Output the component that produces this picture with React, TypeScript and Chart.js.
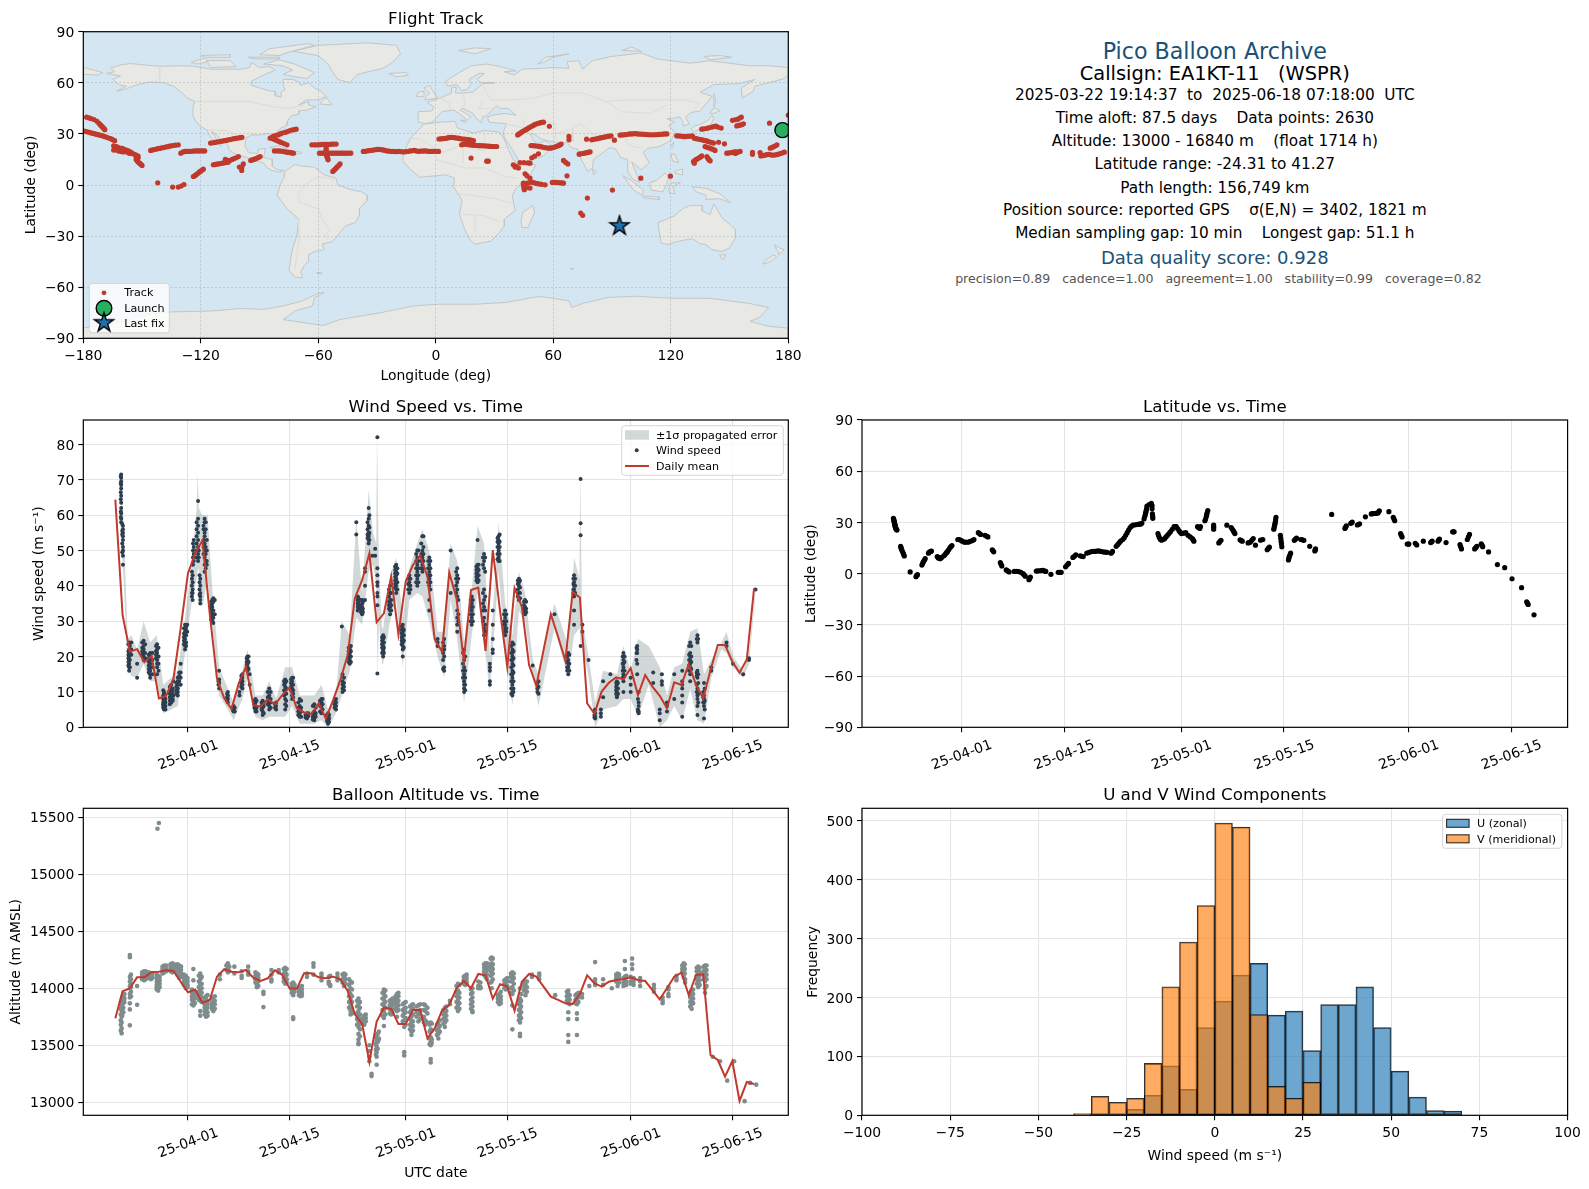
import { useEffect, useRef } from 'react'
import { Chart, registerables } from 'chart.js'
Chart.register(...registerables)

Chart.defaults.font.family = '"DejaVu Sans"'
Chart.defaults.color = '#000'

type Pt = [number, number]
type Col = [number, number[]]

// x values are day of year 2025 (04-01 = 91)
const DATE_TICKS = [91, 105, 121, 135, 152, 166]
const DATE_LABELS = ['25-04-01', '25-04-15', '25-05-01', '25-05-15', '25-06-01', '25-06-15']
const LON_TICKS = [-180, -120, -60, 0, 60, 120, 180]
const LAT_TICKS = [-90, -60, -30, 0, 30, 60, 90]
const WIND_TICKS = [0, 10, 20, 30, 40, 50, 60, 70, 80]
const ALT_TICKS = [13000, 13500, 14000, 14500, 15000, 15500]
const HIST_X_TICKS = [-100, -75, -50, -25, 0, 25, 50, 75, 100]
const HIST_Y_TICKS = [0, 100, 200, 300, 400, 500]

const LAND: Pt[][] = [
  // north america
  [[-168,65.5],[-164,66.5],[-166,68.5],[-161,70.5],[-156,71.3],[-148,70.4],[-140,69.7],[-130,70],[-124,69.8],[-115,68],[-108,68],[-100,68],[-95,69],[-94,72],[-90,69],[-85,69.5],[-82,67.5],[-87,65],[-94,61],[-94.5,58.7],[-90,57],[-85,55.3],[-82,55],[-82,52.5],[-79,51.5],[-79,54.5],[-77,56],[-78,59],[-78,62],[-73,62],[-70,60.5],[-69,58.5],[-65,60],[-62,57],[-58,54.5],[-56,52],[-60,50],[-66,50],[-70,47],[-65,49],[-65,47],[-61,46],[-66,44],[-70,43.5],[-70,41.5],[-74,40.5],[-76,37],[-76,35],[-79,33.5],[-81,31.5],[-80,27],[-80.5,25],[-82,27],[-83,29.5],[-86,30.3],[-90,29.3],[-94,29.5],[-97,27.5],[-97.5,23],[-95.5,19],[-91,18.5],[-90.5,21],[-87,21.5],[-88,16],[-83.5,15],[-83.5,11],[-81,9],[-77.5,8.5],[-80,7.5],[-83,8.3],[-86,10],[-88,13],[-92,14.5],[-96,16],[-102,18],[-105.5,20.5],[-106,23],[-109,26],[-112.5,30],[-114.5,31.5],[-112,27],[-109.5,23],[-112,25],[-115,28],[-117,32.5],[-120.5,34.5],[-122.5,37.5],[-124,40.5],[-124,46],[-123,49],[-127,51],[-130,54.5],[-134,58],[-139,60],[-146,60.5],[-152,59],[-158,56.5],[-163,55],[-158,58],[-162,59],[-165,62],[-161,64]],
  // greenland and arctic islands
  [[-73,78.5],[-60,82],[-35,83.5],[-20,82],[-18,77],[-22,72],[-27,68.5],[-40,65],[-44,60],[-50,62],[-53,67],[-55,71],[-60,76]],
  [[-80,73.5],[-72,71],[-66,68],[-62,66],[-66,62.5],[-72,63.5],[-78,65],[-73,67.5],[-78,70],[-88,71]],
  [[-117,73],[-105,73],[-102,69.5],[-115,69]],
  [[-125,72],[-118,74.5],[-116,72.5],[-122,71]],
  [[-90,76.5],[-85,80],[-65,83],[-62,82],[-75,78],[-80,76]],
  [[-96,75],[-80,75],[-80,74],[-92,74]],
  [[-120,76],[-105,76.5],[-105,75],[-118,75]],
  [[-59,48],[-56,51.5],[-53,47],[-59,47.5]],
  [[-85,22],[-80,23],[-74,20],[-78,20]],
  [[-74,19.5],[-69,19.5],[-68.5,18.5],[-74,18]],
  [[-24,65.5],[-15,66],[-14,64.5],[-20,63.5]],
  [[-5.5,50],[1,51],[-2,56],[-3,58.5],[-6,57],[-3,54],[-5,52]],
  [[-10,52],[-6,52],[-6,55],[-9,54.5]],
  // south america
  [[-77,8],[-72,12],[-68,11],[-62,10.5],[-57,6],[-51,4],[-50,0],[-44,-2.5],[-38,-4],[-35,-6],[-35,-9],[-39,-14],[-39,-18],[-41,-22],[-46,-24],[-49,-28],[-53,-33.5],[-58,-34.5],[-57,-38],[-62,-39],[-65,-41],[-65,-45],[-67,-47],[-69,-51],[-68,-54.5],[-72,-54],[-75,-50],[-74,-42],[-73,-37],[-71,-30],[-70,-20],[-76,-14],[-81,-6],[-80,-2],[-79,1.5],[-77.5,4]],
  [[-61,-51.5],[-58,-51.5],[-59,-52.3]],
  // africa
  [[-6,35.8],[3,37],[10,37.3],[11,33.5],[19,30.5],[25,32],[32,31.2],[34.5,28],[37,21],[39.5,15],[43,11.5],[51,12],[48,5],[41,-2],[39,-6],[40.5,-15],[35,-20],[35,-24],[32.5,-28],[28,-33],[20,-34.8],[18,-33],[15,-27],[12,-17],[13.5,-9],[9,-1],[9.5,4],[5,6],[-4,5],[-8,4.5],[-13,9],[-17,14.5],[-16,20],[-13,27.5],[-9.5,31.5]],
  [[49.5,-12],[50.5,-16],[47,-25],[44,-25],[43.5,-21],[44.5,-16]],
  // eurasia
  [[-9,37],[-9,43],[-2,43.5],[-1,46],[-4.5,48.5],[2,51],[8,54],[8,57],[10.5,57.5],[10,54],[14,54],[19,54.5],[22,57.5],[24,59.5],[30,60],[23,60],[21,62],[25,65.5],[22,65.5],[17,62],[18,59.5],[16,56],[13,55.5],[11,59],[6,58],[5,61],[12,66],[18,70],[26,71],[33,69.5],[41,67],[35,66.5],[40,64.5],[44,68],[54,68.5],[60,69],[68,68.5],[67,72.5],[73,73],[75,68],[80,73],[90,75.5],[105,77.5],[113,74],[130,71.5],[140,73],[160,70],[170,70],[180,69],[180,65],[178,62.5],[170,60],[163,58],[162,55],[156.5,51],[156,57],[163,62],[155,59.5],[142,59],[135,54.5],[141,52],[135,43.5],[130,42.5],[127.5,39.5],[129.5,36],[126.5,34.5],[126,37.5],[124.5,40],[121,39],[118,39],[122,37],[119,35],[122,31],[120,26],[114,22.5],[108,21.5],[106,19],[109,13],[105,9],[100,13.5],[103,5],[104,1.5],[100.5,3.5],[98,8],[98,15],[94.5,16],[92,21],[89,22],[86.5,20],[80.5,15],[80,10],[77.5,8],[73,18],[72.5,21],[69,22],[67,25],[61,25],[57,26],[54,27],[50,30],[48,30],[50,26],[52,24],[56,26],[59.5,22.5],[55,17],[45,13],[43,13],[39,21],[35,28],[34.5,31],[36,36],[30,36.5],[27,37],[26.5,40],[29,41],[35,42],[41,41],[37,45],[33,45],[31,46.5],[28,43],[26,40.8],[24,40],[23,36.5],[20,40],[19,42],[14,45],[12.5,44],[18,40],[16,38],[12,42],[9,44],[3,43],[0,39],[-2,36.8],[-5.5,36]],
  [[50,37],[54,37],[53,41],[54,45],[48,46],[50,42],[49,39]],
  [[-180,69],[-175,67.5],[-170,66],[-173,64.5],[-180,65]],
  [[11.5,79],[20,80.5],[28,80],[20,77]],
  [[52,71],[56,75],[68,77],[60,75],[55,72]],
  [[95,79],[100,81],[105,78.5]],
  [[137,75.5],[145,76],[151,75],[140,73.5]],
  [[12.5,38],[15.5,38],[15,36.8]],
  // east asia and pacific islands
  [[130.5,33],[132,34.5],[136,36],[139,38],[141,41],[142,39],[140.5,35.5],[136,33.5],[131.5,31]],
  [[140,42],[142,45.5],[145,43.5],[142,42]],
  [[142,54],[143,49],[142,46]],
  [[120,23],[121.5,25],[121,22]],
  [[120,18],[122,18],[124,13],[121,14]],
  [[122,8],[126,9.5],[126,6],[122,7]],
  [[109,1],[113,3],[117,7],[119,5],[118,1],[116,-4],[110,-3]],
  [[95.5,5.5],[100,2.5],[106,-3],[105.5,-6],[101,-3]],
  [[105.5,-6.5],[114,-7],[114,-8.5],[106,-7.5]],
  [[120,1],[125,1.5],[121,-1],[122,-5],[119.5,-5],[119,-2]],
  [[131,-1],[138,-2],[145,-5],[148,-8],[150.5,-10.5],[145,-8],[138,-8.5],[138,-6],[133,-4]],
  [[113.5,-22],[116,-21],[122,-18],[126,-14],[130,-12],[136,-12],[136,-15],[140,-17.5],[142,-11],[146,-19],[153,-26],[153,-31],[150,-37],[146,-39],[141,-38],[138,-35],[135,-34.5],[131,-31.5],[124,-33],[118,-35],[115,-34],[114,-27]],
  [[145,-41],[148,-41],[147,-43.5],[146,-43.5]],
  [[173,-35],[175.5,-37],[178,-38],[175,-41],[175,-39],[174,-38]],
  [[172.5,-41],[174,-42],[171,-45],[167,-46.5],[168,-44.5]],
  [[80,9.5],[82,7.5],[80.5,6]],
  [[68.5,-49],[70.5,-49],[69.5,-49.8]],
  // antarctica
  [[-180,-90],[-180,-84],[-160,-80],[-150,-76.5],[-135,-74.5],[-115,-74],[-100,-72.5],[-88,-73],[-78,-71],[-68,-68],[-60,-63.5],[-57,-63.2],[-62,-66],[-63,-71],[-72,-74],[-78,-79],[-57.4,-82.5],[-49,-79],[-28.4,-75],[-11.4,-71],[1.4,-70],[20,-70],[35,-69],[50,-66],[54,-65.5],[68,-68],[69.5,-72],[75,-69.5],[88,-66],[102,-65.3],[120,-66.5],[140,-66.5],[160,-69.5],[170,-72],[165,-78],[160.5,-80],[170,-83],[180,-84],[180,-90]],
]

const BORDERS: Pt[][] = [
  [[-123,49],[-95,49],[-83,46],[-75,45],[-67,47]],
  [[-141,69.7],[-141,60]],
  [[-117,32.5],[-106,31.8],[-97,26]],
  [[-70,-10],[-60,-14],[-58,-20],[-54,-26],[-57,-30],[-53,-33.5]],
  [[-70,-10],[-70,-4],[-66,1],[-60,5],[-52,3]],
  [[-70,-20],[-70,-33],[-72,-50]],
  [[-13,27.5],[-8,27],[3,19],[12,23],[25,20],[25,31]],
  [[25,22],[36,22]],
  [[14,13],[14,23]],
  [[0,15],[15,10],[25,10],[35,5],[42,4]],
  [[12,-5],[30,-8],[40,-11]],
  [[12,-17],[25,-18],[33,-22]],
  [[20,-28],[20,-18]],
  [[28,50],[40,50],[50,51],[60,54],[75,54],[87,49],[98,50],[108,50],[118,50],[127,50],[135,48],[131,43]],
  [[87,49],[95,43],[110,42],[118,47]],
  [[74,36],[80,30],[88,27],[97,28],[98,24],[102,22],[106,22]],
  [[44,39],[46,33],[48,30]],
  [[61,25],[61,36],[54,38]],
  [[61,30],[70,33],[74,36]],
  [[70,33],[70,25]],
  [[2,51],[7,48],[7,44]],
  [[14,54],[15,47],[13,46]],
  [[24,50],[22,45],[29,45]],
  [[28,50],[24,58]],
  [[36,36],[46,33]],
]

const TRACK: Pt[] = [
  [-180,31.8],[-179,31.5],[-178,31.2],[-177,30.9],[-176,30.6],[-175,30.3],[-174,30],[-173,29.7],[-172,29.4],[-171,29.1],[-170,28.8],[-169,28.4],[-168,28],[-167,27.6],[-166,27.2],[-165,26.6],[-164,26],
  [-178.3,39.8],[-177,39.4],[-176,39],[-174.5,38.4],[-173,37.4],[-172,36.2],[-171.5,35.6],[-171,35],[-170.5,34.4],[-170,33.8],[-169.5,33.2],[-169,32.5],
  [-164.5,23],[-164.5,20.5],[-163,22.5],[-163,20.5],[-162,22],[-162,20],[-161,21.5],[-161,19.8],[-160,21.5],[-160,19.5],[-159,20.8],[-159,19.5],[-158,20.5],[-157,20],[-157,18.9],[-156,19.5],[-156,18.5],[-155,18.7],[-154,18],[-153,17.5],[-153,16.5],[-152,17],[-152,16],[-153,15],[-152.5,14.3],[-152,13.5],[-151.5,13],[-151,12.5],[-150.5,12],[-150,11.5],
  [-145.6,20.3],[-145,20.5],[-144,20.8],[-143,21],[-142,21.3],[-141,21.5],[-140,21.8],[-139,22],[-138,22.3],[-137,22.5],[-136,22.8],[-135,23],[-134,23.2],[-133,23.4],[-131.5,23.6],
  [-130.2,18.7],[-129,19.4],[-128,19.7],[-127,19.7],[-126,19.8],[-125,19.8],[-124,19.9],[-123,20],[-122,20],[-121,20],[-120,20],[-119,20],[-118,20],
  [-115,24.6],[-114,24.8],[-113,25],[-112,25.2],[-111,25.4],[-110,25.6],[-109,25.8],[-108,26],[-107,26.2],[-106,26.5],[-105,26.7],[-104,27],[-103,27.2],[-102,27.4],[-101,27.6],[-100,27.8],[-99,28],
  [-123.8,5],[-123,5.5],[-122.5,6],[-121.8,6.6],[-121,7.3],[-120.5,7.8],[-120,8.2],[-119.4,8.8],[-118.7,9.3],
  [-113.6,11.9],[-112.8,12],[-112,12.2],[-111,12.4],[-110,12.6],[-109,12.8],[-108,13],[-107,13.2],[-106,13.4],[-107.5,15],[-106.5,14.5],[-105,14.5],[-104,15],[-103,15.5],[-102,16],[-100.8,16.7],
  [-100.3,10.5],[-98.3,12.4],[-99.1,8.5],[-99,10.5],
  [-94.5,14.4],[-93.8,14.7],[-93,15],[-92.2,15.3],[-91.5,15.7],[-90.6,16.2],[-89.7,16.7],
  [-142,1.3],[-134.4,-1.2],[-131.5,-1.2],[-130,-0.6],[-128.6,0.3],
  [-84.6,27.5],[-83.5,28.1],[-82.5,28.8],[-81.5,29.2],[-80.5,29.5],[-79.5,30],[-78.5,30.5],[-77,30.9],[-76,31.2],[-74.8,31.8],[-73.5,32.3],[-72.4,32.5],[-71.3,32.8],
  [-83,27],[-82,26.5],[-81,26],[-80,25.5],[-79,25],[-77.5,24.3],[-76,23.6],
  [-82.4,20],[-81,20],[-80,20],[-79,19.9],[-78,19.7],[-77,19.5],[-76,19.3],[-75,19.1],[-74,19],[-73.5,18.8],[-72.7,18.7],
  [-63.3,23.6],[-62,23.6],[-61,23.6],[-60,23.6],[-59,23.7],[-58,23.8],[-57,23.8],[-56,23.8],[-55,23.8],[-54,23.9],[-53,24],[-52,24],[-50.9,24],
  [-59.4,18.7],[-58.5,18.7],[-57.5,18.7],[-56.5,18.7],[-55.5,18.7],[-54.5,18.7],[-53.5,18.7],[-52.5,18.7],[-51.5,18.7],[-50.5,18.7],[-49.5,18.7],[-48.5,18.7],[-47.5,18.7],[-46.5,18.7],[-45.5,18.7],[-44.5,18.7],[-43.4,18.7],
  [-56,22],[-56,21],[-56,20],[-56,19],[-55.8,18],[-55.6,17],[-55.5,16.5],[-55.2,15.6],[-55,14.8],
  [-52.6,8],[-52,8.6],[-51.5,9.2],[-50.8,10],[-50.2,10.8],[-49.5,11.6],[-48.9,12.4],
  [-37,19.7],[-36,19.8],[-35,20],[-34,20.2],[-33,20.3],[-32,20.5],[-31,20.7],[-30,20.9],[-29,21],[-28,20.8],[-27,20.6],[-26,20.3],[-25,20],[-24,19.9],[-23,19.8],[-22,19.7],[-21,19.6],[-20,19.6],[-19,19.7],[-18,19.6],[-17,19.5],[-16,19.5],[-15,19.6],[-14,19.8],[-13,20],[-12,20.1],[-11,20.3],[-10,20],[-9,19.8],[-8,19.9],[-7,19.9],[-6,20],[-5,20],[-4,19.8],[-3,19.7],[-2,19.8],[-1,19.8],[0,19.7],[1.4,19.7],
  [1.6,27],[2.5,27.1],[3.5,27.2],[4.5,27.3],[5.5,27.5],[6.5,27.8],[7.5,28],[8.5,27.9],[9.5,27.8],[10.5,27.6],[11.5,27.5],[12.5,27.2],[13.5,27],[14.5,26.9],[15.5,26.8],[16.5,26.6],[17.5,26.5],[18.3,26.2],[19.2,26],
  [13.2,23.6],[14,23.8],[15,24],[16,23.9],[17,23.7],[18,23.5],[19,23.4],[20,23.3],[21,23.2],[22,23.1],[23,23.1],[24,23],[25,23],[26,22.9],[27,22.8],[28,22.7],[29,22.6],[30,22.6],[31.1,22.6],
  [18,15.8],[26.8,14],[26,14],
  [41.8,29.4],[42.5,30],[43.2,30.5],[43.8,31],[44.5,31.5],[45.3,32],[46,32.5],[46.8,33],[47.5,33.6],[48.2,34],[49,34.5],[49.8,35],[50.5,35.5],[51.2,35.8],[52,36.1],[52.8,36.4],[53.5,36.6],[54.2,36.8],[55,36.9],[58,34.5],
  [48.6,23.2],[49.5,23.1],[50.5,23],[51.5,22.9],[52.5,22.7],[53.5,22.5],[54.5,22.3],[55.5,22],[56.5,21.8],[57.5,21.7],[58.4,21.6],[59.2,21.8],[60,22],[61,22.4],[62,22.8],[62.8,23.2],[63.5,23.6],[64,24],
  [68,28.5],[68,26.5],[77,26.9],
  [79.6,26.5],[80.5,26.8],[81.5,27],[82.5,27.2],[83.5,27.5],[84.5,27.8],[85.5,28],[86.5,28.2],[87.5,28.5],[88.5,28.7],[89.5,28.9],[91.2,26.3],
  [94.1,29.3],[95,29.4],[96,29.5],[97,29.6],[98,29.8],[99,30],[100,30],[101,30.1],[102,30.2],[103,30],[104,29.9],[105,29.9],[106,29.8],[107,29.7],[108,29.6],[109,29.5],[110,29.5],[111,29.5],[112,29.5],[113,29.6],[114,29.7],[115,29.8],[116,29.9],[117,30],[118,30],
  [73.2,18.1],[74,18.3],[75,18.5],[76,18.7],[77,19],[78,19.3],[78.8,19.5],
  [65.2,14.4],[66.2,13.4],[67.4,12.4],
  [49,16],[50.5,17],[52.4,18.3],
  [39.6,11.9],[41,11],[42.2,10],[40.5,10.5],[43,13.2],[45,13.2],[47,13],[48.1,12.8],
  [45.6,6.6],[46.5,5.5],[48.1,4],
  [44.7,1.1],[44.8,0],[45,-1],[45.1,-2],[45.2,-2.8],[46.5,1],[47.5,1.3],[49,1.7],[50,1.4],[51,1],[52,0.8],[53,0.6],[54,0.4],[55.8,0.1],[48.1,-1.8],[46.5,-1.5],
  [59.5,1.5],[60.5,1.5],[61.5,1.5],[62.5,1.4],[63.5,1.3],[64.4,1.2],[65.2,1.1],[67,5.4],
  [104.7,4],[119.8,5.2],[90.2,-3],[77.4,-7.7],[74,-16.5],[75,-17.8],
  [170.4,36.3],[180,41],
  [123,28.9],[124,28.8],[125,28.7],[126,28.6],[127,28.4],[128,28.5],[129,28.6],[130,28.7],[131,28.8],[132,27.5],[133,27.2],[134,27],[135,26.7],[136,26.5],[137,26.2],[138,26],[139,25.6],[140,25.2],[141,24.9],[141.8,24.6],
  [137.5,22.6],[138.2,22.3],[139,22],[140,21.6],[141,21.2],[141.8,20.8],[142.6,20.3],[144.4,25.1],[147.4,24.2],
  [135.8,32.8],[136.9,33],[138.4,33.2],[139.5,33.6],[141,34],[142,34.3],[143,34.6],[144,34],[145.7,33.4],
  [151.5,38],[152.8,38.3],[154,38.5],[155,39.2],[156,39.8],[153.7,34.7],[154.6,35],[155.5,35.2],[156.3,35.5],[157.1,35.9],
  [131.6,13.8],[132.3,14.4],[133,15],[133.8,15.5],[134.5,16],[135.2,16.5],[135.8,17.1],[132,12.8],[138.4,16.7],[138.8,16],[139.2,15.2],[139.6,14.7],[140.1,14.2],
  [148.6,18.7],[149.5,18.8],[150.5,19],[151.5,19.2],[152.5,19.5],[153.3,19.4],[154,19.2],[154.7,19.5],[155.4,19.7],[153,18.5],
  [161.7,19.1],[161.7,18],[165.6,19],[166,17.1],[167,17.3],[168,17.5],[169,17.8],[170,18],[171,17.7],[172,17.5],[173,17.6],[174,17.8],[175,18.1],[176,18.5],[177,18.9],[178,19.3],
  [170.8,21.6],[171.6,22],[172.5,22.5],[173.4,23],[174.2,23.6],
]
const LAUNCH: Pt = [177, 32.2]
const LAST_FIX: Pt = [93.8, -24]

const MEAN_DAYS = [81,82,83,84,85,86,87,88,89,90,91,92,93,94,95,96,97,98,99,100,101,102,103,104,105,106,107,108,109,110,111,112,113,114,115,116,117,118,119,120,121,122,123,124,125,126,127,128,129,130,131,132,133,134,135,136,137,138,139,140,141,142,143,144,145,146,147,148,149,150,151,152,153,154,155,156,157,158,159,160,161,162,163,164,165,166,167,168,169]
const WIND_MEAN = [64.4,31.7,21.4,22.1,18.4,20.2,8.2,8.9,13.6,28,43.5,49.2,52.8,32.2,13.8,8.2,5.2,12.4,17.1,6.3,5.8,7.9,6.5,9.1,11.3,5.4,4.2,3.7,6.8,2.5,7.7,13.4,20.4,36.5,41.6,49.2,29.7,32.2,42.6,26.3,41.2,45.9,48.5,42.6,24.9,21.4,43.8,36.5,18.8,38.8,39.5,21.6,50.1,33,17,39.4,34.1,17.6,11.8,21.9,32,25.6,18.8,38.3,36.7,6.8,3.8,10.1,12.6,14.1,13.6,16.7,9.1,14.8,11.5,8.9,5.4,12.7,12,17.9,12,8.2,16.2,23.3,23.3,18.6,15.4,19.2,39.3]
const ALT_MEAN = [13737,13974,14000,14096,14096,14143,14146,14158,14152,14058,13965,13988,13874,13895,14102,14167,14146,14140,14161,14094,14064,14088,14158,14117,14000,13997,14132,14132,14096,14088,14102,14079,13980,13772,13687,13354,13708,13830,13819,13687,13687,13810,13810,13561,13649,13804,13854,14000,14064,14000,14126,14114,13909,14035,14015,13804,14058,14126,14102,14015,13927,13898,13868,13863,13950,14114,14044,14015,14058,14073,14079,14096,14073,14064,13985,13904,14000,14102,14137,13939,14117,14123,13415,13371,13225,13362,13012,13178,13161]

const BAND_DAYS = [81.7,82.1,82.7,83.2,84,84.9,85.8,86.7,87.6,88.7,89.6,90.6,91.5,92.2,92.35,92.5,93,93.7,94.4,95.3,96.5,97.3,98.5,99.2,100.3,101.3,102.2,103.15,104.4,105.35,106.4,107.4,108.4,109.4,110.3,111.4,112.2,113.3,114.2,115,115.9,116.5,116.95,117.05,117.15,117.3,117.75,117.9,118.85,119.7,120.6,121.5,122.6,123.3,124.25,125.4,126.3,127.2,128.1,129.05,130.1,130.9,131.8,132.6,133.8,134.7,135.7,136.6,137.45,138.5,139.3,141.5,143.4,144.2,144.95,145.05,145.15,145.3,146.2,147.1,148.2,150.1,151,152,153,154.5,156,157,158,159.1,160.2,161.2,162.1,163.1,164.5,165.2,166.1,167.5,168.3,169.2]
const BAND_HIGH = [73.5,60,25,26,22,30,24,26,12,14,16,31,46,62,72,62,60,60,38,17,11,7,16,22,9,9,13,8,17,17,9,9,9,12,5,9,30,26,59,38,67,55,52,84,84,46,28,28,43,48,31,45,52,56,50,27,27,52,47,24,39,57,52,20,58,35,26,44,38,19,15,35,23,48,42,73,73,31,20,7,16,15,23,16,25,23,17,9,17,18,27,28,15,19,24,27,20,16,21,40]
const BAND_LOW = [55,43,17,14.5,14,18,13,13,4,5,6,21,35,42,44,45,34,42,28,9,5,2,8,14,3,2,3,3,3,6,1,1,1,2,0,4,9,16,31,29,44,46,40,14,14,30,18,18,30,36,17,36,38,37,30,20,14,36,25,7,26,38,24,10,44,22,6,33,30,14,6,28,14,26,28,22,22,24,14,0,5,6,8,8,3,12,0,2,6,2,11,2,1,14,22,21,17,14,18,38]

const WIND_COLUMNS: Col[] = [
  [81.8,[71.5,70.5,69.5,68.5,67.5,65.5,63.5,62,60.5,59,58]],[82.05,[57,56,55,54,53,51,50,48.5,46]],[82.9,[24,22,21,20,19,18,17,16]],[83.2,[24,22,20.5]],[84,[18,14]],
  [84.9,[24.5,23,22,21,20,19]],[85.8,[21,20,19,18,17,16,15,14]],[86.75,[23.5,22,21,20,19,18,17,15]],[87.6,[10.5,9,8,7,6.5,6,5.5]],[87.9,[8,7,6,5]],
  [88.7,[12,11,10,9,8,7]],[89,[13,9]],[89.6,[10,9,11,12,13,14]],[90,[18,15.5,14,12]],[90.6,[29,28,27,26,25,24,23,22]],[90.9,[29,27]],
  [91.55,[44,42,40,38,37]],[91.8,[53,51,49,47]],[92.4,[64,59,57,55,53,51,49,47]],[92.7,[42,40,38,37,36,35]],[93.3,[59,58,55,54,52,50,48,46,44]],[93.6,[53,50,47,46]],
  [94.35,[36,35,34,33,32,31,30]],[94.7,[36,32]],[95.3,[16,13.5,12.5,11]],[96.5,[10,9,8,7]],[97.3,[6,5,4.5]],[98.1,[9,10]],[98.5,[15,14,13,12,11]],[99.2,[20,19,18,17,16]],[99.5,[15,12]],
  [100.3,[8,7,6,5,4.5]],[101.3,[7.5,6.5,5.5,4.5,3.5]],[102.2,[11,9,8,7,6,5]],[103.15,[7,6,5]],[104.4,[13.5,12.5,11.5,10,8,6.5,5]],[105.35,[14,13,12,11,10,9,8]],[106.4,[8,6,5,4,3]],[107.4,[4,3,2.5]],
  [108.4,[6.5,4.5,3.5,2.5,2]],[109.4,[8,7,5.5,4]],[110.3,[4,3,2,1.5,1]],[111.4,[8,7,6,5]],[112.3,[15,13,12,11,10]],[112.2,[28.5]],[113.3,[23,22,21,20,19,18]],
  [114.2,[58,54.5]],[114.4,[37,36,35,34,33]],[115,[36,35,34,33,32]],[115.4,[45,44,40,36]],[115.9,[62,59,57,55,54.5,54,53,52]],[116.4,[48.5]],[116.8,[50.5,48.5]],[117.1,[82,45,43,41,40,38,37,34.5,15.2]],
  [117.9,[26,25,24,23,22,21.5,20]],[118.85,[40,38,36,35,34,33,32]],[119.7,[46,45,44,43,42,41,40,39,38]],[120.6,[29,28,27,26,25,24,23,22,20]],[121.5,[43,41,40,38]],[122.6,[50,48,46,44,42,40]],
  [123.3,[54,50,48,46,44]],[124.25,[48,46,44,42,40,36,33]],[125.4,[25,24,23]],[126.3,[25,23,22,20,17,16]],[127.2,[50,38]],[128.1,[45,43,41,39,37,33,31,29,27]],[129.05,[22,19,17,15,13,12,11,10]],
  [130.1,[37,35,33,31,29]],[130.9,[53,46,45,44,43,42,41]],[131.8,[49,47,45,39,36,34,31,28,26]],[132.6,[18,17,16,13,12]],[133,[33,29,25,22,21]],[133.8,[54,53,52,50,48,47]],[134.7,[33,31,29,28,26]],
  [135.7,[24,22,21,20,19,18,16,15,14,12,10,9]],[136.6,[42,41,40,38,36]],[137.45,[36,34,33,32]],[138.5,[17.5]],[139.3,[13,11.5,9.5]],[141.5,[32]],[143.4,[21,19,18,17,15]],[144.2,[43,41,40,39,37,33,29]],
  [145.1,[70.2,57.7,54.3,23]],[145.35,[29,27]],[146.2,[19]],[147.1,[5,4,3,2.5]],[147.9,[5,4,3]],[148.2,[13,8.5]],[149.2,[15]],[150.1,[13,12,11,10,9,8.5]],[151,[21,19,18,17,15,14,13,10]],[152,[14,12,10]],
  [152.9,[23,22,21,18,15]],[153.1,[10,7,6,4.5,4]],[155.1,[15.5,12.5]],[156,[5,4,2]],[156.3,[15,13,12]],[157,[7,6,4.5]],[158,[15,8]],[159.1,[16,13,12,11,9,7,3]],[160.2,[24,21,20,19,18,17,15,13]],
  [161.2,[26,24,16,15,14,11,9,8,6,3.5]],[162.1,[12.5,9,8,7,6,2.5]],[163.1,[17,16]],[165.2,[24,23]],[166.1,[18]],[167.5,[15]],[168.3,[19,19.5]],[169.2,[39]],
  // second pass over the thick stacks
  [81.75,[71,69,66.5,64.5,61,59.5]],[81.95,[57.5,55.5,54.5,52,49.5]],[82.8,[23.5,21.5,20.5,19.5,18.5,17.5]],[83,[23,21,19,17]],
  [84.7,[24,22.5,21.5,20.5]],[85.1,[23.5,21,19.5]],[85.6,[20.5,19.5,18.5,17.5,16.5,15.5]],[86.1,[21,19,17,15]],[86.6,[23,21.5,20.5,19.5]],[86.95,[22.5,20,18,16]],
  [87.7,[10,9.5,8.5,7.5,6.5,5.5,5]],[88.5,[11.5,10.5,9.5,8.5,7.5,6.5]],[88.9,[11,10,8,7.5]],[89.4,[9.5,10.5,11.5,12.5]],[89.8,[13,14.5,15.5]],
  [90.45,[28,26.5,25.5,24.5,23.5]],[90.75,[28.5,27.5,26,24,23]],[91.65,[43,41,39,38,36]],[91.7,[52,50,48,46]],[92.2,[58,56,54,52,50,48]],[92.6,[43,41,39,37.5]],[92.5,[50,48]],
  [93.15,[57,56,53,51,49]],[93.45,[58,56,51,49,47,45]],[94.2,[35.5,34.5,33.5,32.5,31.5,30.5]],[94.5,[36.5,35.5,33,31,29.5]],[95.2,[13,12]],[96.4,[9.5,8.5,7.5]],[97.2,[5.5,4.8]],[97.45,[5.5,4.5]],
  [98.35,[14.5,13.5,12.5,11.5]],[99.1,[19.5,18.5,17.5]],[99.35,[20,18.5,16.5]],[100.15,[7.5,6.5,5.5]],[100.45,[7.5,5.5,4.5]],[101.15,[7,6,5]],[101.45,[7,6,4]],[102,[10,8.5,7.5,6.5]],[102.4,[10,8,7,5.5]],[103,[6.5,5.5]],
  [104.25,[13,12,10.5,9]],[104.55,[13,11,9.5,7.5,6]],[105.2,[13.5,12.5,11.5,10.5]],[105.5,[14,12,10.5,9.5,8.5]],[106.2,[7,5.5,4.5,3.5]],[106.6,[7.5,5.5,4.5,3]],[107.2,[3.5,2.8]],[107.6,[4,3.2]],[108.2,[6,4,3,2.2]],[108.6,[5.5,4,3]],
  [109.2,[7.5,6,4.5]],[109.55,[8,6.5,5]],[110.15,[3.5,2.5,1.8]],[110.45,[3.5,2.5,1.5]],[111.2,[7.5,6.5,5.5]],[112.5,[14,12.5,11.5,10.5]],[113.15,[22.5,21.5,20.5,19.5,18.5]],[113.45,[23,21.5,20,18.5]],
  [114.5,[36.5,35.5,34.5,33.5]],[114.85,[36,34.5,33.5,32.5]],[115.1,[35.5,33.5,32.5]],[115.75,[58,56,54.5,53.5]],[116,[60,56.5,55,53]],[117.75,[25.5,24.5,23.5,22.5,21]],[118,[25.5,24,22.5,21]],
  [118.7,[39,37,35.5,34.5,33.5]],[119,[38,36,34.5,33]],[119.55,[45.5,44.5,43.5,42.5,41.5,40.5,39.5]],[119.85,[45,43.5,41,39]],[120.45,[28.5,27.5,26.5,25.5,24.5,23.5]],[120.75,[27.5,26,24.5,22.5]],
  [121.35,[42,40.5,39]],[121.65,[42,40,39]],[122.45,[49,47,45,43,41]],[122.75,[50,47,45,43,41]],[123.15,[52,49,47,45]],[123.45,[54,51,49,47,45]],[124.1,[47,45,43,41]],[124.4,[47,45,43,41,39]],
  [126.15,[24,21,19,16.5]],[127.95,[44,42,40,38]],[128.25,[42,36,32,30]],[128.9,[21,18,16,14]],[129.2,[20,16,14,12,10.5]],[129.95,[36,34,32,30]],[130.25,[36,34,32,30]],[130.75,[45.5,44.5,43.5,42.5,41.5]],[131.05,[46,44.5,43,41.5]],
  [131.65,[48,46,38,35,33,30]],[131.95,[48,44,37,33,29,27]],[133.65,[53.5,52.5,51,49,47.5]],[133.95,[54.5,52.5,51,49,47]],[134.55,[32,30,29,27]],[134.85,[32,30,28,27]],
  [135.55,[23,21,19,17,15,13,11,9.5]],[135.85,[23.5,21.5,19.5,17.5,15.5,13,11,10]],[136.45,[41.5,40.5,39,37]],[136.75,[41.5,39.5,38,36.5]],[137.3,[35.5,34.5,33.5,32.5]],[137.6,[35.5,33.5,32.5]],
  [139.15,[12.5,11,10]],[143.25,[20,18.5,17,16]],[143.55,[20.5,18,16]],[144.1,[42,40.5,39,38]],[144.35,[42,40,38]],
  [147,[4.5,3.5,2.8]],[150,[12.5,11.5,10.5,9.5]],[150.25,[12.5,11,9.5]],[150.9,[20,18,16,14]],[151.15,[20,18.5,16,14.5]],[152.8,[22.5,21,19]],[153,[8,5,4.5]],[160.05,[23,20.5,19,17.5,16]],[160.35,[23,20,18.5,16.5]],[161.1,[25,15.5,14.5,12,10]],[161.3,[25,15,12.5,9.5,7]],[162,[10,8.5,7]],[162.2,[11,7.5,5]],
]

const LATITUDE: Pt[] = [
  [81.72,32.4],[81.8,31],[81.85,30],[81.9,29],[81.95,28],[82,27],[82.1,26],[82.2,25.5],[82.7,16],[82.8,14.5],[83,12.5],[83.2,10.4],[84,1],[84.8,-1.8],[85,-0.6],
  [85.6,5],[85.8,7],[86.05,8.8],[86.5,12],[86.9,13.2],[87.7,10],[87.9,9],[88.1,8.8],[88.6,10.5],[88.9,12],[89.1,13],[89.4,15],[89.7,16.5],[90.5,20],[90.9,19.5],[91.4,18.4],[91.9,18.4],[92.4,19.2],[92.7,20],
  [93.3,24],[93.6,23],[94.2,22.5],[94.6,21.5],[95.2,14],[95.4,12.8],[96.3,6.5],[96.5,4.5],[97.1,2.2],[97.5,1],[98.2,1.3],[98.8,1.2],[99.4,0],[99.7,-1.5],[100.2,-3.5],[100.4,-2],[101.2,1.5],[101.7,1.7],[102.1,2],[102.5,1.3],[103.2,-0.4],
  [104.2,0.8],[104.6,0.8],[105.2,4],[105.6,6],[106.2,9.5],[106.6,11],[107.2,10.5],[107.6,10],[108.1,12],[108.6,12.8],[109.2,13],[109.7,13.3],[110.3,12.8],[110.6,12.6],[111.4,12],[111.6,13],
  [112.1,16],[112.5,18],[113.2,21],[113.6,24],[114,27],[114.4,28.5],[115,28.8],[115.4,29],[115.9,32],[116.1,35],[116.2,37],[116.3,39.5],[116.9,41.2],[117,38],[117.05,35],[117.1,32.4],
  [117.8,23.5],[118,21],[118.3,19.6],[118.7,20.5],[119.1,22.5],[119.5,24.5],[120,27.5],[120.3,27.5],[120.7,25],[121,23.5],[121.6,24],[121.9,22.5],[122.5,20.5],[122.7,19],[123.2,27.5],[123.5,26.5],
  [124.2,31],[124.4,33.5],[124.5,35.5],[124.6,37],[125.4,28.5],[125.4,26],[126.1,18],[126.4,19.5],[127.2,28.4],[127.8,27],[128.1,25],[128.3,23.5],[129,19.8],[129.3,19],[130.1,18],[130.4,18.5],[130.8,20.6],[131.1,16.7],[131.8,19.6],[132.1,20],
  [132.7,14],[133,15.5],[133.6,26],[133.7,28],[133.8,30],[133.9,33],[134.5,22.5],[134.6,19],[134.7,15.7],[135.6,8],[135.7,9.8],[135.9,12],[136.4,19.5],[136.7,20.8],[137.3,20],[137.7,19.5],[138.5,16],[139.2,13.3],[139.3,14.5],
  [141.5,34.7],[143.3,26.5],[143.5,28],[144.1,29.5],[144.3,30.2],[145,28.5],[145.3,29.2],[146.1,33.3],[146.9,35],[147.2,35.2],[147.8,35.5],[148,36.8],[149.3,36.3],[149.9,33],[150.1,31],
  [150.9,23.5],[151.1,21.5],[151.8,17.3],[152,17.3],[152.9,17.8],[153.1,16.8],[154,19],[155,18.2],[155.2,19],[156,19],[156.2,20.2],[157.1,18.2],[158,24.5],[158.2,24.5],[159,17],[159.2,14.5],[160,20],[160.3,23],
  [161,14.5],[161.3,16],[161.9,17.5],[162.1,15.8],[162.9,12.7],[164.1,5.3],[165.1,3.5],[166.1,-3],[167.4,-8.2],[168.1,-16.5],[168.3,-18],[169.1,-24.1],
  // second pass over the thick runs
  [81.75,31.8],[81.82,30.5],[81.87,29.5],[81.92,28.5],[81.97,27.5],[82.05,26.5],[82.15,25.8],[82.75,15.2],[82.9,13.5],[83.1,11.4],[84.9,-1],[85.7,6],[85.95,8],[86.6,12.6],[86.8,13],[87.8,9.5],[88.3,9.5],[88.75,11.2],[89,12.5],[89.25,14],[89.55,15.8],[90.7,20],[91.1,19],[91.6,18.5],[92.1,18.8],[92.55,19.5],
  [93.45,23.5],[94.4,22],[95.3,13.4],[96.4,5.5],[97.3,1.6],[98.5,1.3],[99.1,0.8],[99.55,-0.7],[100.3,-2.8],[101.4,1.6],[101.9,1.8],[102.3,1.6],[104.4,.8],[105.4,5],[106.4,10.2],[107.4,10.2],[108.35,12.4],[108.9,13],[109.45,13.2],[110,13],[110.85,12.5],[111.5,12.5],
  [112.3,17],[112.7,19],[113,20],[113.4,22.5],[113.8,25.5],[114.2,27.8],[114.7,28.6],[115.2,29],[115.6,29.5],[116,33.5],[116.15,36],[116.25,38],[116.6,40.5],[117,39.8],[117.08,33.6],
  [117.9,22.2],[118.15,20],[118.5,20],[118.9,21.5],[119.3,23.5],[119.75,26],[120.15,27.5],[120.5,26.3],[120.85,24.2],[121.3,23.7],[122.2,21.5],[122.6,19.8],[123.35,27],[123.6,27.5],
  [124.3,32],[124.45,34.5],[125.4,27.2],[126.25,18.8],[127.95,26],[128.2,24.2],[129.15,19.4],[130.25,18.2],[130.6,19.5],[132.85,14.8],[133.65,27],[133.75,29],[133.85,31.5],[134.55,20.7],[134.65,17.5],[135.65,8.9],[135.8,10.9],[136.55,20.2],[137.5,19.8],[139.25,13.9],
  [143.4,27.2],[144.2,29.8],[145.15,28.8],[147.05,35.2],[147.5,35.3],[147.9,36.2],[150,32],[151,22.5],[152,17.3],[155.1,18.6],[156.1,19.6],[158.1,24.5],[159.1,15.7],[160.15,21.6],[161.15,15.2],[162,16.7],[168.2,-17.3],
]

const ALT_COLUMNS: Col[] = [
  [81.87,[13900,13850,13800,13750,13700,13650,13605]],[82.1,[13930,13900,13870,13830,13790]],[83,[14292,14272,14100,14060,14020,14000,13950,13920,13868,13815,13675]],[84,[14020,13855]],
  [84.95,[14150,14130,14110,14090,14070]],[85.9,[14130,14110,14090,14080]],[86.8,[15400]],[87,[15450]],[86.9,[14110,14080,14050,14020,14000,13980]],[87.75,[14200,14180,14160,14140]],[88.85,[14220,14200,14180,14160,14140]],[89.8,[14200,14170,14140,14110,14090]],
  [90.7,[14110,14080,14050,14020,14000]],[91.75,[14170,14070,13980,13960,13930,13900,13870,13850]],[92.7,[14130,14080,14030,13990,13950,13920,13890,13800,13760]],[93.5,[13930,13900,13870,13840,13810,13780,13750]],[94.5,[13920,13880,13850,13810,13800]],
  [95.4,[14120,14080]],[96.5,[14220,14180,14140]],[97.4,[14190,14130]],[98.4,[14150,14110,14090]],[99.3,[14190,14150,14120]],[100.5,[14130,14100,14070,14030,14010]],[101.4,[13970,13950,13835]],[102.5,[14160,14120,14080,14060]],[103.5,[14160,14140]],
  [104.4,[14180,14140,14100,14070,14040]],[105.5,[14050,14000,13980,13940,13745,13730]],[106.5,[14010,13980,13950,13930]],[107.4,[14130,14100]],[108.3,[14220,14190,14120]],[109.4,[14130,14110,14070]],[110.6,[14110,14030,14020]],[111.6,[14130,14100,14070]],[112.5,[14130,14090,14060,14020]],
  [113.4,[14060,14000,13950,13900,13850,13800,13770]],[114.5,[13910,13860,13800,13760,13710,13660,13600,13550,13520,13510]],[115.3,[13760,13730,13700,13680]],[116,[13500,13450,13400,13360]],[116.3,[13230,13250]],[117,[13590,13540,13490,13440,13400,13330]],[117.3,[13550,13560,13620]],
  [118,[13990,13950,13900,13850,13800,13740,13670]],[119,[13900,13870,13840,13800,13770]],[119.8,[13950,13920,13880,13840,13800,13750]],[120.8,[13870,13820,13780,13720,13660,13440,13410]],[121.8,[13850,13810,13750,13700,13660,13620,13590]],[122.75,[13850,13800,13770,13710]],[123.7,[13850,13800,13720,13680]],
  [124.45,[13700,13640,13570,13530,13500,13380,13350]],[125.5,[13700,13650,13600,13560]],[126.4,[13830,13790,13750,13700,13660]],[127.1,[13860,13890]],[128.2,[14040,13980,13950,13900,13850,13800]],[129.2,[14110,14080,14050,14030]],[130.2,[14000,13960,13920,13880,13840,13800,13790]],[131,[14060,14020,14000]],
  [132,[14220,14200,14170,14140,14100]],[132.85,[14270,14220,14190,14160,14120,14060,14000]],[133.9,[13950,13920,13890,13860]],[134.8,[14080,14050,14010,13990]],[135.7,[14140,14110,14070,14010,13950,13850,13640]],[136.75,[14000,13910,13870,13820,13770,13730,13700,13600,13580]],[137.5,[14060,14030,14000,13940]],[138.4,[14120,14100]],[139.4,[14130,14110,14080]],
  [141.6,[13940]],[143.4,[13980,13950,13920,13870,13790,13730,13590,13530]],[144.6,[13950,13920,13890,13860,13780,13730,13590]],[145.3,[13950,13920]],[146.3,[14020]],[147.1,[14230,14080,14050,14030]],[148.2,[14080,14030]],[149.4,[14000]],[150.2,[14130,14100,14080,14050,14020]],[151.2,[14240,14170,14100,14060,14030]],[152.2,[14260,14210,14170,14070,14050]],
  [153.3,[14090,14060,14020]],[155.2,[14030,14000,13970]],[156.4,[13920,13890,13870]],[157.2,[14010,13990,13950,13930]],[158.3,[14110,14090,14070]],[159.3,[14220,14190,14160,14130,14100]],[159.5,[14080,14050]],[160.4,[13980,13940,13900,13860,13820]],[161.3,[14190,14160,14130,14100,14060,14040,14010]],[162.25,[14200,14170,14130,14100,14060,14000,13960]],
  [163.3,[13400]],[164.3,[13360]],[165.3,[13190]],[166.25,[13360]],[167.7,[13010]],[168.45,[13170]],[169.3,[13155]],
  // second pass over the thick stacks
  [81.75,[13880,13820,13770,13720,13680,13630]],[81.95,[13920,13860,13810,13760]],[82.25,[13950,13910,13880]],[83.15,[14120,14080,14040,14010,13970,13930]],[84.7,[14140,14120,14100,14080]],[85.2,[14150,14120,14100,14080]],[85.6,[14140,14120,14100,14090]],[86.1,[14130,14100,14090]],[86.7,[14120,14090,14060,14030,14010,13990]],[87.1,[14100,14070,14040,14010]],
  [87.5,[14190,14170,14150,14130]],[88,[14200,14170,14150]],[88.6,[14210,14190,14170,14150]],[89.1,[14210,14190,14170,14150]],[89.55,[14210,14180,14150,14120]],[90.05,[14190,14160,14130,14100]],[90.45,[14120,14090,14060,14030]],[90.95,[14090,14060,14030,14010]],
  [91.55,[13990,13960,13930,13900,13860]],[91.95,[13970,13940,13910,13870]],[92.5,[14110,14060,14010,13970,13930,13900]],[92.9,[14100,14040,14000,13960,13920,13880]],[93.3,[13920,13890,13860,13830,13800,13770]],[93.7,[13940,13890,13860,13830,13790,13760]],[94.3,[13910,13870,13840,13820]],[94.7,[13930,13890,13860,13820]],
  [96.3,[14200,14160]],[96.7,[14190,14150]],[100.3,[14140,14110,14080,14050]],[100.7,[14120,14090,14060,14020]],[104.2,[14170,14130,14090,14060]],[104.6,[14170,14120,14080,14050]],[105.3,[14040,14010,13990,13960]],[105.7,[14030,14000,13970]],[106.3,[14000,13970,13940]],[106.7,[14020,13990,13960,13935]],
  [110.4,[14100,14060,14040]],[112.3,[14120,14080,14050]],[112.7,[14120,14080,14040]],[113.2,[14080,14030,13980,13930,13880,13830]],[113.6,[14050,13990,13930,13880,13820,13780]],[114.3,[13890,13840,13780,13730,13680]],[114.7,[13880,13830,13770,13730,13690,13640,13580]],[115.1,[13740,13710,13690]],[115.5,[13770,13740,13710]],
  [116.9,[13570,13510,13460,13420]],[117.15,[13600,13530,13470]],[117.8,[13960,13910,13860,13810,13760]],[118.2,[13980,13930,13880,13830,13770]],[118.8,[13890,13850,13820,13780]],[119.2,[13910,13880,13850,13810,13780]],[119.6,[13930,13900,13860,13820]],[120,[13960,13930,13890,13850,13810]],
  [120.6,[13860,13810,13760,13710]],[121,[13880,13830,13790,13740,13680]],[121.6,[13840,13790,13730,13680,13640]],[122,[13860,13820,13770,13710,13670,13630]],[122.5,[13840,13790,13750]],[123,[13860,13810,13770,13730]],[123.5,[13860,13810,13750,13700]],[124,[13830,13780,13700]],[124.3,[13680,13620,13560,13510]],[124.6,[13690,13630,13550,13520]],
  [125.3,[13680,13630,13590]],[125.7,[13720,13670,13620]],[126.2,[13810,13770,13730,13690]],[126.6,[13840,13800,13760,13720]],[128,[14020,13970,13930,13880,13830]],[128.4,[14030,13960,13920,13870,13820]],[129,[14100,14070,14040]],[129.4,[14120,14090,14060,14040]],[130,[13990,13950,13900,13860,13820]],[131.3,[14050,14010,14000]],
  [131.8,[14210,14180,14150,14120]],[132.2,[14220,14190,14160,14120,14080]],[132.7,[14260,14210,14180,14150,14110,14050]],[133,[14260,14210,14170,14130,14080]],[133.7,[13940,13910,13880]],[134.1,[13970,13930,13900,13870]],[134.6,[14070,14040,14000]],[135,[14090,14060,14020]],[135.5,[14130,14100,14060,14000,13960]],[135.9,[14130,14090,14040,13980]],
  [136.6,[13900,13860,13810,13760,13720]],[136.9,[13950,13890,13840,13790,13740]],[137.3,[14050,14020,13980]],[137.7,[14060,14010,13970]],[143.2,[13970,13930,13890]],[143.6,[13940,13900,13860]],[144.4,[13940,13900,13870]],[144.8,[13960,13920,13880]],
  [150,[14120,14090,14060]],[150.4,[14120,14090,14050]],[151,[14090,14050,14020]],[151.4,[14110,14060,14030]],[152,[14100,14060,14040]],[152.4,[14090,14060,14030]],[159.1,[14200,14170,14140]],[159.45,[14210,14170,14130]],[160.2,[13960,13920,13880,13840]],[160.6,[13990,13950,13910,13870]],[161.1,[14180,14150,14110,14080,14040]],[161.5,[14180,14140,14110,14070,14030]],[162.05,[14190,14150,14120,14080]],[162.45,[14200,14160,14120,14080,14020]],
]

const BIN_CENTERS = [-97.5,-92.5,-87.5,-82.5,-77.5,-72.5,-67.5,-62.5,-57.5,-52.5,-47.5,-42.5,-37.5,-32.5,-27.5,-22.5,-17.5,-12.5,-7.5,-2.5,2.5,7.5,12.5,17.5,22.5,27.5,32.5,37.5,42.5,47.5,52.5,57.5,62.5,67.5,72.5,77.5,82.5,87.5,92.5,97.5]
const U_COUNTS = [0,0,0,0,0,0,0,0,0,0,0,0,0,0,0,10,34,84,44,149,194,238,258,170,177,110,188,188,218,149,75,31,8,7,0,0,0,0,0,0]
const V_COUNTS = [0,0,0,0,0,0,0,0,0,0,0,0,3,32,22,29,88,218,294,356,496,489,171,49,29,56,0,0,0,0,0,0,0,0,0,0,0,0,0,0]

const INFO_TEXT = [
  'Pico Balloon Archive',
  'Callsign: EA1KT-11   (WSPR)',
  '2025-03-22 19:14:37  to  2025-06-18 07:18:00  UTC',
  'Time aloft: 87.5 days    Data points: 2630',
  'Altitude: 13000 - 16840 m    (float 1714 h)',
  'Latitude range: -24.31 to 41.27',
  'Path length: 156,749 km',
  'Position source: reported GPS    \u03c3(E,N) = 3402, 1821 m',
  'Median sampling gap: 10 min    Longest gap: 51.1 h',
  'Data quality score: 0.928',
  'precision=0.89   cadence=1.00   agreement=1.00   stability=0.99   coverage=0.82',
]
const INFO_Y = [51, 74.3, 95, 118.3, 141, 164.3, 187.7, 210.3, 233.3, 257.7, 278.7]
const INFO_SIZE = [22.2, 19.4, 15.3, 15.3, 15.3, 15.3, 15.3, 15.3, 15.3, 18, 12.55]
const INFO_COLOR = ['#1a5276', '#000', '#000', '#000', '#000', '#000', '#000', '#000', '#000', '#1a5276', '#555']
const INFO_DX = [0, 0, 0, 0, 0, 0, 0, 0, 0, 0, 3.6]

const RED = '#c0392b'
const NAVY = '#2c3e50'
const SLATE = '#7f8c8d'
const GRID = '#e4e4e4'
const BAND = 'rgba(127,140,141,0.35)'

const flat = (cols: Col[]) => cols.flatMap(([x, ys]) => ys.map(y => ({ x, y })))
const toXY = (pts: Pt[]) => pts.map(([x, y]) => ({ x, y }))
const zip = (xs: number[], ys: number[]) => xs.map((x, i) => ({ x, y: ys[i] }))
const minus = (v: number) => String(v).replace('-', '\u2212')

function makeStar(r: number) {
  const c = document.createElement('canvas')
  c.width = c.height = Math.ceil(r * 2 + 4)
  const g = c.getContext('2d')!
  g.translate(c.width / 2, c.height / 2)
  g.beginPath()
  for (let i = 0; i < 10; i++) {
    const rad = i % 2 ? r * 0.382 : r
    const a = -Math.PI / 2 + (i * Math.PI) / 5
    g.lineTo(rad * Math.cos(a), rad * Math.sin(a))
  }
  g.closePath()
  g.fillStyle = '#1f6fa8'
  g.fill()
  g.lineWidth = 1.4
  g.strokeStyle = '#000'
  g.stroke()
  return c
}

// full box around the plot, like matplotlib spines
const framePlugin = {
  id: 'frame',
  afterDraw(chart: any) {
    const { ctx, chartArea: a } = chart
    ctx.save()
    ctx.strokeStyle = '#000'
    ctx.lineWidth = 1.2
    ctx.strokeRect(a.left, a.top, a.right - a.left, a.bottom - a.top)
    ctx.restore()
  },
}

const oceanPlugin = {
  id: 'ocean',
  beforeDraw(chart: any) {
    const { ctx, chartArea: a } = chart
    ctx.fillStyle = '#d4e6f1'
    ctx.fillRect(a.left, a.top, a.right - a.left, a.bottom - a.top)
  },
}

function legendBox(ctx: any, x: number, y: number, w: number, h: number) {
  ctx.beginPath()
  ctx.roundRect(x, y, w, h, 3)
  ctx.fillStyle = 'rgba(255,255,255,0.8)'
  ctx.fill()
  ctx.strokeStyle = 'rgba(204,204,204,0.8)'
  ctx.lineWidth = 1
  ctx.stroke()
  ctx.font = '11.1px "DejaVu Sans"'
  ctx.fillStyle = '#000'
  ctx.textBaseline = 'middle'
  ctx.textAlign = 'left'
}

const mapLegend = {
  id: 'mapLegend',
  afterDraw(chart: any) {
    const { ctx, chartArea: a } = chart
    const x = a.left + 6
    const y = a.bottom - 55
    ctx.save()
    legendBox(ctx, x, y, 80, 49.5)
    ctx.fillText('Track', x + 35, y + 10)
    ctx.fillText('Launch', x + 35, y + 26)
    ctx.fillText('Last fix', x + 35, y + 41)
    ctx.beginPath()
    ctx.arc(x + 14.7, y + 9.5, 2.4, 0, Math.PI * 2)
    ctx.fillStyle = RED
    ctx.fill()
    ctx.beginPath()
    ctx.arc(x + 14.7, y + 25, 7.8, 0, Math.PI * 2)
    ctx.fillStyle = '#27ae60'
    ctx.fill()
    ctx.strokeStyle = '#000'
    ctx.lineWidth = 1.4
    ctx.stroke()
    const star = makeStar(10)
    ctx.drawImage(star, x + 14.7 - star.width / 2, y + 39.5 - star.height / 2)
    ctx.restore()
  },
}

const windLegend = {
  id: 'windLegend',
  afterDraw(chart: any) {
    const { ctx, chartArea: a } = chart
    const x = a.right - 166.6
    const y = a.top + 5.7
    ctx.save()
    legendBox(ctx, x, y, 161.6, 49.6)
    ctx.fillText('\u00b11\u03c3 propagated error', x + 34.3, y + 10)
    ctx.fillText('Wind speed', x + 34.3, y + 25.4)
    ctx.fillText('Daily mean', x + 34.3, y + 41)
    ctx.fillStyle = BAND
    ctx.fillRect(x + 3.3, y + 4.5, 24, 9.5)
    ctx.beginPath()
    ctx.arc(x + 15, y + 24.6, 2, 0, Math.PI * 2)
    ctx.fillStyle = NAVY
    ctx.fill()
    ctx.beginPath()
    ctx.moveTo(x + 3.3, y + 40.3)
    ctx.lineTo(x + 27.3, y + 40.3)
    ctx.strokeStyle = RED
    ctx.lineWidth = 2
    ctx.stroke()
    ctx.restore()
  },
}

const histLegend = {
  id: 'histLegend',
  afterDraw(chart: any) {
    const { ctx, chartArea: a } = chart
    const x = a.right - 125
    const y = a.top + 6
    ctx.save()
    legendBox(ctx, x, y, 119.3, 34)
    ctx.fillText('U (zonal)', x + 34.5, y + 10.2)
    ctx.fillText('V (meridional)', x + 34.5, y + 25.5)
    ctx.lineWidth = 1.1
    ctx.strokeStyle = 'rgba(0,0,0,0.8)'
    ctx.fillStyle = 'rgba(31,119,180,0.65)'
    ctx.fillRect(x + 4, y + 5, 22.5, 8)
    ctx.strokeRect(x + 4, y + 5, 22.5, 8)
    ctx.fillStyle = 'rgba(255,127,14,0.65)'
    ctx.fillRect(x + 4, y + 20.5, 22.5, 8)
    ctx.strokeRect(x + 4, y + 20.5, 22.5, 8)
    ctx.restore()
  },
}

interface AxisOpts {
  min: number
  max: number
  ticks: number[]
  size: number
  label?: string
  labelPad?: number
  dates?: boolean
  grid?: any
  border?: any
}

function axis({ min, max, ticks, size, label, labelPad, dates, grid, border }: AxisOpts, horizontal: boolean) {
  return {
    type: 'linear',
    min,
    max,
    afterBuildTicks: (s: any) => { s.ticks = ticks.map(value => ({ value })) },
    afterFit: (s: any) => { if (horizontal) s.height = size; else s.width = size },
    grid: { color: GRID, lineWidth: 1.1, tickLength: 5, tickColor: '#000', tickWidth: 1.1, ...grid },
    border: { display: false, ...border },
    ticks: {
      autoSkip: false,
      font: { size: 13.9 },
      color: '#000',
      padding: dates ? 4.5 : horizontal ? 5 : 4,
      minRotation: dates ? 20 : 0,
      maxRotation: dates ? 20 : 0,
      labelOffset: dates ? 30 : horizontal ? 0 : 1.5,
      callback: (v: number) => (dates ? DATE_LABELS[DATE_TICKS.indexOf(v)] : minus(v)),
    },
    title: label
      ? {
          display: true,
          text: label,
          font: { size: 13.9 },
          color: '#000',
          padding: horizontal ? { top: 0, bottom: labelPad } : { top: labelPad, bottom: 0 },
        }
      : { display: false },
  }
}

function baseOptions(title: string, titleTop: number, rightPad: number, x: any, y: any) {
  return {
    animation: false,
    responsive: false,
    events: [],
    layout: { padding: { top: 0, left: 0, bottom: 0, right: rightPad } },
    plugins: {
      legend: { display: false },
      tooltip: { enabled: false },
      title: {
        display: true,
        text: title,
        fullSize: false,
        color: '#000',
        font: { size: 16.67, weight: 'normal', lineHeight: 1.2 },
        padding: { top: titleTop, bottom: 2.5 },
      },
    },
    scales: { x: axis(x, true), y: axis(y, false) },
  }
}

const line = (data: any[], order: number, extra: any = {}) => ({
  data, order, showLine: true, pointRadius: 0, borderWidth: 2, borderColor: RED, ...extra,
})
const dots = (data: any[], order: number, radius: number, color: string) => ({
  data, order, showLine: false, pointRadius: radius, pointBackgroundColor: color, pointBorderWidth: 0,
})

function mapConfig() {
  return {
    type: 'scatter',
    data: {
      datasets: [
        ...BORDERS.map(b => line(toXY(b), 5, { borderColor: '#dcdcd8', borderWidth: 1 })),
        ...LAND.map(p => line(toXY([...p, p[0]]), 6, { fill: 'shape', backgroundColor: '#e8e8e4', borderColor: '#c3c6c6', borderWidth: 1 })),
        dots(toXY(TRACK), 2, 2.6, RED),
        {
          data: toXY([LAUNCH]), order: 1, showLine: false, pointRadius: 7.5,
          pointBackgroundColor: '#27ae60', pointBorderColor: '#000', pointBorderWidth: 1.4,
        },
        { data: toXY([LAST_FIX]), order: 0, showLine: false, pointRadius: 10, pointStyle: makeStar(10) },
      ],
    },
    options: baseOptions('Flight Track', 9.2, 21.7,
      { min: -180, max: 180, ticks: LON_TICKS, size: 46.7, label: 'Longitude (deg)', labelPad: 0.7,
        grid: { z: 1, color: 'rgba(120,130,140,0.28)', lineWidth: 1 }, border: { dash: [2, 2] } },
      { min: -90, max: 90, ticks: LAT_TICKS, size: 83.3, label: 'Latitude (deg)', labelPad: 23.3,
        grid: { z: 1, color: 'rgba(120,130,140,0.28)', lineWidth: 1 }, border: { dash: [2, 2] } }),
    plugins: [oceanPlugin, framePlugin, mapLegend],
  }
}

function windConfig() {
  return {
    type: 'scatter',
    data: {
      datasets: [
        line(zip(BAND_DAYS, BAND_HIGH), 3, { borderWidth: 0, fill: '+1', backgroundColor: BAND }),
        line(zip(BAND_DAYS, BAND_LOW), 3, { borderWidth: 0 }),
        dots(flat(WIND_COLUMNS), 1, 2, NAVY),
        line(zip(MEAN_DAYS, WIND_MEAN), 0),
      ],
    },
    options: baseOptions('Wind Speed vs. Time', 7.5, 21.7,
      { min: 76.585, max: 173.715, ticks: DATE_TICKS, size: 42.7, dates: true },
      { min: 0, max: 86.9, ticks: WIND_TICKS, size: 83.3, label: 'Wind speed (m s\u207b\u00b9)', labelPad: 31.4 }),
    plugins: [framePlugin, windLegend],
  }
}

function latConfig() {
  return {
    type: 'scatter',
    data: { datasets: [dots(toXY(LATITUDE), 0, 2.6, '#000')] },
    options: baseOptions('Latitude vs. Time', 7.5, 21.4,
      { min: 77.43, max: 173.68, ticks: DATE_TICKS, size: 42.7, dates: true },
      { min: -90, max: 90, ticks: LAT_TICKS, size: 67, label: 'Latitude (deg)', labelPad: 8.4 }),
    plugins: [framePlugin],
  }
}

function altConfig() {
  return {
    type: 'scatter',
    data: {
      datasets: [
        dots(flat(ALT_COLUMNS), 1, 2.3, SLATE),
        line(zip(MEAN_DAYS, ALT_MEAN), 0),
      ],
    },
    options: baseOptions('Balloon Altitude vs. Time', 7.8, 21.7,
      { min: 76.585, max: 173.715, ticks: DATE_TICKS, size: 73.7, dates: true, label: 'UTC date', labelPad: 7.2 },
      { min: 12886, max: 15579, ticks: ALT_TICKS, size: 83.3, label: 'Altitude (m AMSL)', labelPad: 8 }),
    plugins: [framePlugin],
  }
}

function histConfig() {
  const bar = (counts: number[], color: string, order: number) => ({
    data: zip(BIN_CENTERS, counts),
    order,
    backgroundColor: color,
    borderColor: 'rgba(0,0,0,0.8)',
    borderWidth: 1.1,
    borderSkipped: false,
    grouped: false,
    barPercentage: 1,
    categoryPercentage: 1,
  })
  const options: any = baseOptions('U and V Wind Components', 7.8, 21.4,
    { min: -100, max: 100, ticks: HIST_X_TICKS, size: 73.7, label: 'Wind speed (m s\u207b\u00b9)', labelPad: 24.7 },
    { min: 0, max: 521, ticks: HIST_Y_TICKS, size: 67, label: 'Frequency', labelPad: 10.4 })
  options.scales.x.offset = false
  options.scales.x.grid.offset = false
  return {
    type: 'bar',
    data: { datasets: [bar(V_COUNTS, 'rgba(255,127,14,0.65)', 0), bar(U_COUNTS, 'rgba(31,119,180,0.65)', 1)] },
    options,
    plugins: [framePlugin, histLegend],
  }
}

function ChartBox({ left, top, width, height, config }: { left: number; top: number; width: number; height: number; config: () => any }) {
  const canvasRef = useRef<HTMLCanvasElement>(null)
  useEffect(() => {
    if (!canvasRef.current) return
    const chart = new Chart(canvasRef.current, config())
    return () => chart.destroy()
  }, [])
  return <canvas ref={canvasRef} width={width} height={height} style={{ position: 'absolute', left, top, width, height }} />
}

export default function App() {
  return (
    <div style={{ position: 'absolute', left: 0, top: 0, width: 1589, height: 1189, overflow: 'hidden', background: '#fff', fontFamily: '"DejaVu Sans"' }}>
      <ChartBox left={0} top={0} width={810} height={385} config={mapConfig} />
      <ChartBox left={0} top={390} width={810} height={380} config={windConfig} />
      <ChartBox left={795} top={390} width={794} height={380} config={latConfig} />
      <ChartBox left={0} top={778} width={810} height={411} config={altConfig} />
      <ChartBox left={795} top={778} width={794} height={411} config={histConfig} />
      {INFO_TEXT.map((text, i) => (
        <div key={text} style={{
          position: 'absolute', left: 862 + INFO_DX[i], width: 705.6, top: INFO_Y[i] - 15, height: 30, lineHeight: '30px',
          textAlign: 'center', whiteSpace: 'pre', fontSize: INFO_SIZE[i], color: INFO_COLOR[i],
        }}>{text}</div>
      ))}
    </div>
  )
}
